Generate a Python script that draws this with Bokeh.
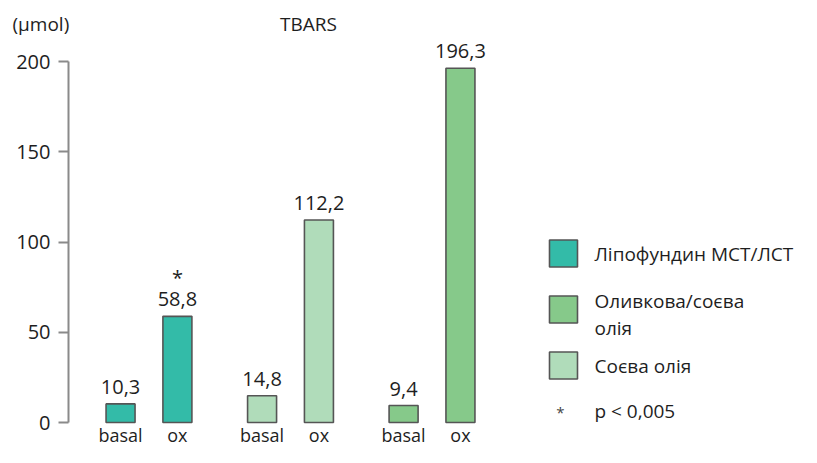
from bokeh.plotting import figure
from bokeh.models import FactorRange, Range1d, ColumnDataSource, FixedTicker
from bokeh.layouts import row, column
from bokeh.embed import file_html
from bokeh.resources import INLINE
from bokeh.core.properties import value

# ---- data ----
groups = ["Ліпофундин МСТ/ЛСТ", "Соєва олія", "Оливкова/соєва олія"]
conditions = ["basal", "ox"]
tbars_lipofundin = [10.3, 58.8]
tbars_soy = [14.8, 112.2]
tbars_olive_soy = [9.4, 196.3]
significant_lipofundin = ["", "*"]
significant_soy = ["", ""]
significant_olive_soy = ["", ""]
group_colors = ["#33bba8", "#b0dcba", "#86c98a"]
y_ticks = [0, 50, 100, 150, 200]

chart_title = "TBARS"
unit_label = "(µmol)"
legend_labels = ["Ліпофундин МСТ/ЛСТ", "Оливкова/соєва\nолія", "Соєва олія"]
legend_colors = ["#33bba8", "#86c98a", "#b0dcba"]
note_symbol = "*"
note_text = "p < 0,005"

FONT = "Open Sans"
TEXT_COLOR = "#1e1e1e"
EDGE = "#555555"

HEADER_H = 36
BODY_H = 411
MAIN_W = 512
TOTAL_W = 801
PX_PER_UNIT = 1.805
ZERO_PAGE_Y = 422

# ---- build table ----
all_values = [tbars_lipofundin, tbars_soy, tbars_olive_soy]
all_sig = [significant_lipofundin, significant_soy, significant_olive_soy]
factors, tops, colors, labels, stars = [], [], [], [], []
for gi, g in enumerate(groups):
    for ci, c in enumerate(conditions):
        factors.append((g, c))
        v = all_values[gi][ci]
        tops.append(v)
        colors.append(group_colors[gi])
        labels.append(f"{v:.1f}".replace(".", ","))
        stars.append(all_sig[gi][ci])

src = ColumnDataSource(dict(
    x=factors, top=tops, color=colors, label=labels, star=stars,
    cond=[f[1] for f in factors],
    label_y=[t + 17 / PX_PER_UNIT for t in tops],
    star_y=[t + 39 / PX_PER_UNIT for t in tops],
    cond_y=[-12.5 / PX_PER_UNIT] * len(tops),
))


def bare(fig):
    fig.outline_line_color = None
    fig.grid.visible = False
    fig.background_fill_color = "white"
    fig.border_fill_color = "white"
    return fig


# ---- header (unit + title) ----
hd = bare(figure(width=TOTAL_W, height=HEADER_H, x_range=Range1d(0, TOTAL_W),
                 y_range=Range1d(0, HEADER_H), x_axis_location=None, y_axis_location=None,
                 output_backend="svg", toolbar_location=None, min_border_left=0,
                 min_border_right=0, min_border_top=0, min_border_bottom=0))
hd.text(x=[12], y=[HEADER_H - 23], text=[unit_label], text_align="left",
        text_baseline="middle", text_font=value(FONT), text_font_size="19px",
        text_color=TEXT_COLOR)
hd.text(x=[308], y=[HEADER_H - 23], text=[chart_title], text_align="center",
        text_baseline="middle", text_font=value(FONT), text_font_size="19px",
        text_color=TEXT_COLOR)

# ---- main chart ----
x_range = FactorRange(factors=factors, factor_padding=0, group_padding=0.489,
                      range_padding=0.4155, range_padding_units="absolute")
zero_px = ZERO_PAGE_Y - HEADER_H          # distance of 0 from top of body
frame_top_val = zero_px / PX_PER_UNIT
frame_bot_val = (BODY_H - zero_px) / PX_PER_UNIT

p = bare(figure(width=MAIN_W, height=BODY_H, x_range=x_range,
                y_range=Range1d(-frame_bot_val, frame_top_val),
                x_axis_location=None, output_backend="svg", toolbar_location=None,
                min_border_left=68, min_border_right=0, min_border_top=0,
                min_border_bottom=0))

p.vbar(x="x", top="top", bottom=0, width=0.51, source=src, fill_color="color",
       line_color=EDGE, line_width=1.6)

for col in ("label", "star"):
    p.text(x="x", y=col + "_y", text=col, source=src, text_align="center",
           text_baseline="middle", text_font=value(FONT), text_font_size="20px",
           text_color=TEXT_COLOR)
p.text(x="x", y="cond_y", text="cond", source=src, text_align="center",
       text_baseline="middle", text_font=value(FONT), text_font_size="18px",
       text_color=TEXT_COLOR)

ax = p.yaxis[0]
ax.ticker = FixedTicker(ticks=y_ticks)
ax.bounds = (0, 200)
ax.axis_line_color = "#8a8a8a"
ax.axis_line_width = 2
ax.major_tick_line_color = "#8a8a8a"
ax.major_tick_line_width = 2
ax.major_tick_out = 10
ax.major_tick_in = 0
ax.minor_tick_line_color = None
ax.major_label_standoff = 8
ax.major_label_text_font = FONT
ax.major_label_text_font_size = "20px"
ax.major_label_text_color = TEXT_COLOR

# ---- legend panel ----
LG_W = TOTAL_W - MAIN_W
lg = bare(figure(width=LG_W, height=BODY_H, x_range=Range1d(0, LG_W),
                 y_range=Range1d(0, BODY_H), x_axis_location=None, y_axis_location=None,
                 output_backend="svg", toolbar_location=None, min_border_left=0,
                 min_border_right=0, min_border_top=0, min_border_bottom=0))

LEG_TOP = 194
LEG_STEP = 56
sq_y = [LEG_TOP - i * LEG_STEP for i in range(len(legend_labels))]
txt_y = [y - 5 * lab.count("\n") for y, lab in zip(sq_y, legend_labels)]
lsrc = ColumnDataSource(dict(y=sq_y, ty=txt_y, color=legend_colors, label=legend_labels))
lg.rect(x=51, y="y", width=28, height=27, source=lsrc, fill_color="color",
        line_color=EDGE, line_width=1.6)
lg.text(x=82, y="ty", text="label", source=lsrc, text_baseline="middle",
        text_align="left", text_font=value(FONT), text_font_size="19px",
        text_color=TEXT_COLOR, text_line_height=1.06)

note_y = 37
lg.text(x=[48], y=[note_y - 1], text=[note_symbol], text_align="center",
        text_baseline="middle", text_font=value(FONT), text_font_size="15px",
        text_color="#444444")
lg.text(x=[82], y=[note_y], text=[note_text], text_align="left",
        text_baseline="middle", text_font=value(FONT), text_font_size="19px",
        text_color=TEXT_COLOR)

layout = column(hd, row(p, lg))
open("out.html", "w").write(file_html(layout, INLINE))
